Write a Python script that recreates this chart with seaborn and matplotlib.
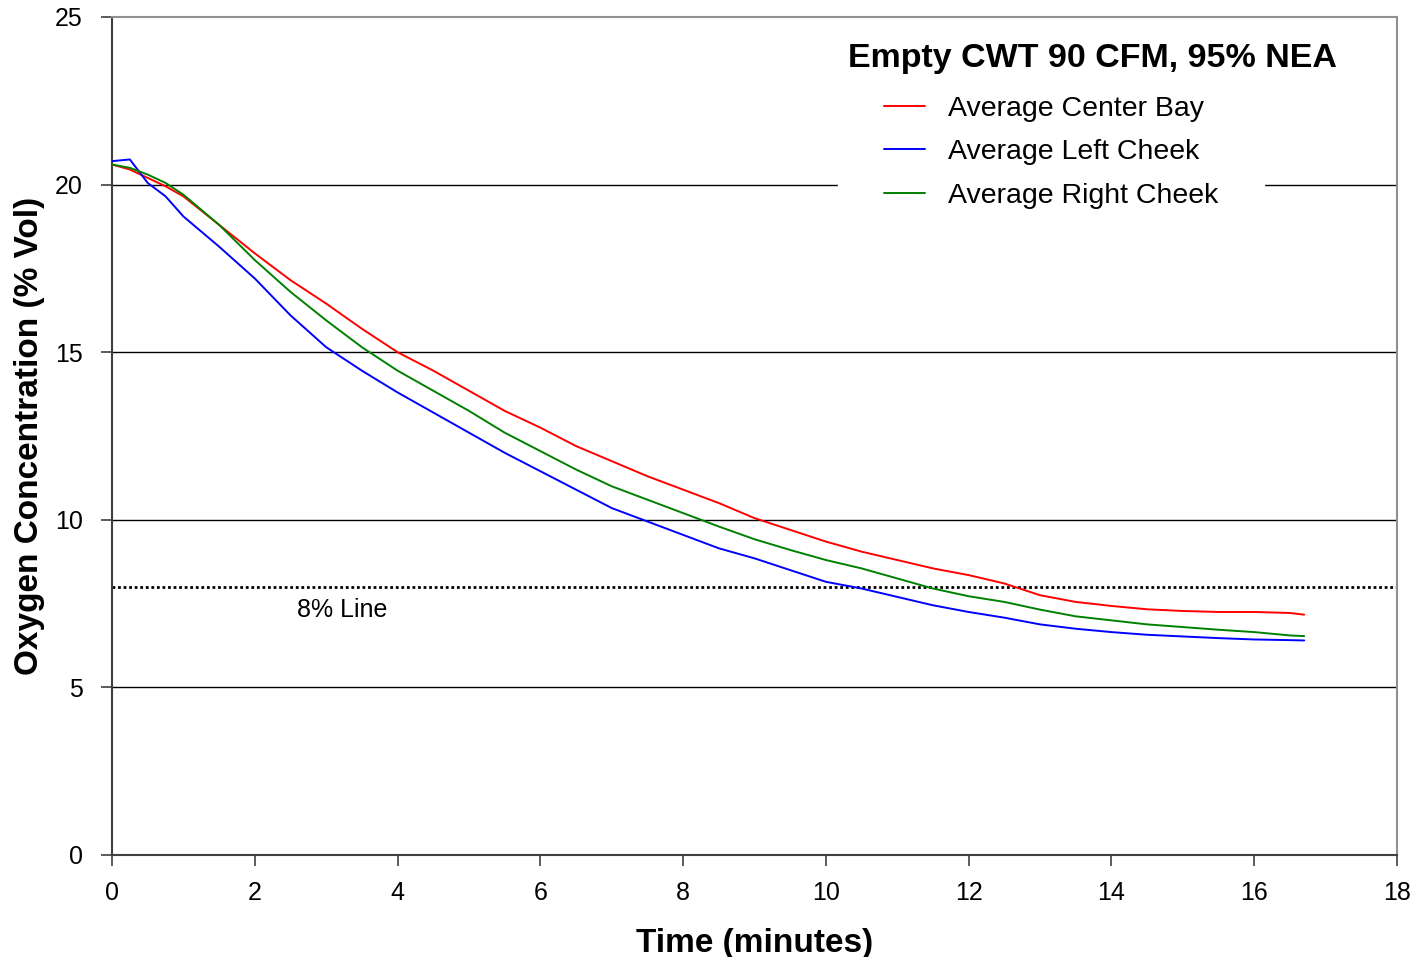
import matplotlib
matplotlib.use("Agg")
import matplotlib.pyplot as plt
import seaborn as sns
import pandas as pd

# ---- data ----
time_min = [0, 0.25, 0.5, 0.75, 1.0, 1.5, 2.0, 2.5, 3.0, 3.5, 4.0, 4.5, 5.0, 5.5,
            6.0, 6.5, 7.0, 7.5, 8.0, 8.5, 9.0, 9.5, 10.0, 10.5, 11.0, 11.5, 12.0,
            12.5, 13.0, 13.5, 14.0, 14.5, 15.0, 15.5, 16.0, 16.5, 16.7]
center_bay = [20.6, 20.45, 20.2, 19.95, 19.65, 18.8, 17.95, 17.15, 16.45, 15.7, 15.0,
              14.45, 13.85, 13.25, 12.75, 12.2, 11.75, 11.3, 10.9, 10.5, 10.05, 9.7,
              9.35, 9.05, 8.8, 8.55, 8.35, 8.1, 7.75, 7.55, 7.43, 7.33, 7.28, 7.25,
              7.25, 7.22, 7.17]
left_cheek = [20.7, 20.75, 20.05, 19.65, 19.05, 18.15, 17.2, 16.1, 15.15, 14.45, 13.8,
              13.2, 12.6, 12.0, 11.45, 10.9, 10.35, 9.95, 9.55, 9.15, 8.85, 8.5, 8.15,
              7.95, 7.7, 7.45, 7.25, 7.08, 6.88, 6.75, 6.65, 6.57, 6.52, 6.47, 6.43,
              6.41, 6.40]
right_cheek = [20.6, 20.5, 20.3, 20.05, 19.7, 18.8, 17.75, 16.8, 15.95, 15.15, 14.45,
               13.85, 13.25, 12.6, 12.05, 11.5, 11.0, 10.6, 10.2, 9.8, 9.42, 9.1, 8.8,
               8.55, 8.25, 7.95, 7.72, 7.55, 7.32, 7.12, 7.0, 6.88, 6.8, 6.72, 6.65,
               6.55, 6.53]
series_names = ["Average Center Bay", "Average Left Cheek", "Average Right Cheek"]
series_colors = ["#ff0000", "#0000ff", "#008000"]
x_ticks = [0, 2, 4, 6, 8, 10, 12, 14, 16, 18]
y_ticks = [0, 5, 10, 15, 20, 25]
limit_value = 8
title_text = "Empty CWT 90 CFM, 95% NEA"

df = pd.concat([
    pd.DataFrame({"t": time_min, "o2": vals, "series": name})
    for name, vals in zip(series_names, [center_bay, left_cheek, right_cheek])
])

sns.set_theme(style="ticks")
plt.rcParams["font.family"] = ["Liberation Sans", "DejaVu Sans"]
plt.rcParams["text.color"] = "black"
plt.rcParams["axes.labelcolor"] = "black"
plt.rcParams["xtick.color"] = "black"
plt.rcParams["ytick.color"] = "black"

fig = plt.figure(figsize=(14.16, 9.57), dpi=100)
ax = fig.add_axes([112/1416, 1-855/957, (1397-112)/1416, (855-17)/957])

sns.lineplot(data=df, x="t", y="o2", hue="series", hue_order=series_names,
             palette=series_colors, linewidth=1.4, ax=ax, legend=False, zorder=3)

ax.set_xlim(0, 18)
ax.set_ylim(0, 25)
ax.set_xticks(x_ticks)
ax.set_yticks(y_ticks)
ax.tick_params(axis="both", labelsize=18, length=8, width=1.2, color="#404040",
               labelcolor="black", direction="out")
ax.tick_params(axis="x", pad=11)
ax.tick_params(axis="y", pad=13)

for y in y_ticks[1:-1]:
    ax.axhline(y, color="black", lw=1.0, zorder=1)
ax.axhline(limit_value, color="black", lw=2.0, ls=(0, (1, 1)), zorder=2)
ax.text(2.59, limit_value - 0.7, "8% Line", fontsize=18, va="center", ha="left",
        color="black")

for s in ["left", "bottom"]:
    ax.spines[s].set_color("#404040")
    ax.spines[s].set_linewidth(1.5)
for s in ["top", "right"]:
    ax.spines[s].set_color("#909090")
    ax.spines[s].set_linewidth(1.5)

ax.set_xlabel("Time (minutes)", fontsize=24, fontweight="bold", labelpad=16,
              color="black")
ax.set_ylabel("Oxygen Concentration (% Vol)", fontsize=24, fontweight="bold",
              labelpad=7, color="black")

handles = [plt.Line2D([], [], color=c, lw=1.4) for c in series_colors]
leg = ax.legend(handles, series_names, loc="upper left",
                bbox_to_anchor=(838/1416, 1-50/957), bbox_transform=fig.transFigure,
                fontsize=20.5, frameon=True, facecolor="white", edgecolor="white",
                framealpha=1, borderpad=1.6, handlelength=1.45, handletextpad=0.8,
                labelspacing=0.62, borderaxespad=0, fancybox=False)
for txt in leg.get_texts():
    txt.set_color("black")
leg.set_zorder(5)
fig.text(848/1416, 1-58/957, title_text, fontsize=24.5, fontweight="bold",
         ha="left", va="center", zorder=6, color="black")

fig.savefig("out.png", dpi=100, facecolor="white")
